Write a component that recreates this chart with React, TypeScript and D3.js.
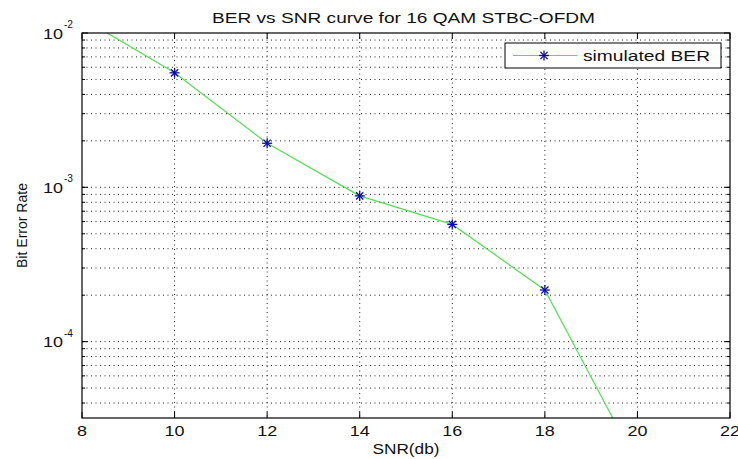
import React from "react";
import * as d3 from "d3";

const snr = [8, 10, 12, 14, 16, 18, 20];
const ber = [1.25e-2, 5.52e-3, 1.93e-3, 8.8e-4, 5.75e-4, 2.16e-4, 1.6e-5];
const xTicks = [8, 10, 12, 14, 16, 18, 20, 22];
const yDecades = [-4, -3, -2];
const titleText = "BER vs SNR curve for 16 QAM STBC-OFDM";
const xLabelText = "SNR(db)";
const yLabelText = "Bit Error Rate";
const legendText = "simulated BER";

const W = 738, H = 459;
const L = 82, R = 730, T = 33, B = 418;
const FONT = "'Liberation Sans', Arial, sans-serif";

function Star({ cx, cy, r, color }: { cx: number; cy: number; r: number; color: string }) {
  const d = r * 0.72;
  return (
    <g stroke={color} strokeWidth={1.3}>
      <line x1={cx - r} y1={cy} x2={cx + r} y2={cy} />
      <line x1={cx} y1={cy - r} x2={cx} y2={cy + r} />
      <line x1={cx - d} y1={cy - d} x2={cx + d} y2={cy + d} />
      <line x1={cx - d} y1={cy + d} x2={cx + d} y2={cy - d} />
    </g>
  );
}

export default function App() {
  const x = d3.scaleLinear().domain([8, 22]).range([L, R]);
  const y = d3.scaleLog().domain([3.2e-5, 1e-2]).range([B, T]);

  const minorVals: number[] = [];
  for (const e of [-5, -4, -3]) {
    for (let m = 1; m <= 9; m++) {
      const v = m * Math.pow(10, e);
      if (v >= 3.2e-5 && v < 1e-2) minorVals.push(v);
    }
  }

  const line = d3
    .line<number>()
    .x((_, i) => x(snr[i]))
    .y((d) => y(d));

  const markerColor = "#0a0aa8";
  const lineColor = "#55dd55";

  return (
    <svg width={W} height={H} style={{ position: "absolute", left: 0, top: 0, background: "#fff" }}>
      <defs>
        <clipPath id="plotclip">
          <rect x={L} y={T} width={R - L} height={B - T} />
        </clipPath>
      </defs>
      <rect x={0} y={0} width={W} height={H} fill="#fff" />
      {/* grid */}
      <g stroke="#222" strokeWidth={1} strokeDasharray="1,3.5">
        {xTicks
          .filter((t) => t > 8 && t < 22)
          .map((t) => (
            <line key={"gx" + t} x1={x(t)} x2={x(t)} y1={T} y2={B} />
          ))}
        {minorVals.map((v, i) => (
          <line key={"gy" + i} x1={L} x2={R} y1={y(v)} y2={y(v)} />
        ))}
      </g>
      {/* ticks */}
      <g stroke="#000" strokeWidth={1}>
        {xTicks.map((t) => (
          <g key={"tx" + t}>
            <line x1={x(t)} x2={x(t)} y1={B} y2={B - 6} />
            <line x1={x(t)} x2={x(t)} y1={T} y2={T + 6} />
          </g>
        ))}
        {minorVals.map((v, i) => (
          <g key={"ty" + i}>
            <line x1={L} x2={L + 3} y1={y(v)} y2={y(v)} />
            <line x1={R} x2={R - 3} y1={y(v)} y2={y(v)} />
          </g>
        ))}
        {yDecades.map((e) => (
          <g key={"tyd" + e}>
            <line x1={L} x2={L + 6} y1={y(Math.pow(10, e))} y2={y(Math.pow(10, e))} />
            <line x1={R} x2={R - 6} y1={y(Math.pow(10, e))} y2={y(Math.pow(10, e))} />
          </g>
        ))}
      </g>
      {/* data */}
      <g clipPath="url(#plotclip)">
        <path d={line(ber) || ""} fill="none" stroke={lineColor} strokeWidth={1.2} />
        {ber.map((v, i) => (
          <Star key={"m" + i} cx={x(snr[i])} cy={y(v)} r={5} color={markerColor} />
        ))}
      </g>
      {/* axes box */}
      <rect x={L} y={T} width={R - L} height={B - T} fill="none" stroke="#000" strokeWidth={1.2} />
      {/* x tick labels */}
      <g fontFamily={FONT} fontSize={15} fill="#111" textAnchor="middle">
        {xTicks.map((t) => (
          <text
            key={"lx" + t}
            x={x(t)}
            y={436}
            textLength={String(t).length * 10}
            lengthAdjust="spacingAndGlyphs"
          >
            {t}
          </text>
        ))}
      </g>
      {/* y tick labels */}
      <g fontFamily={FONT} fill="#111">
        {yDecades.map((e) => {
          const yy = y(Math.pow(10, e));
          return (
            <g key={"ly" + e}>
              <text x={43} y={yy + 5.5} fontSize={15} textLength={20} lengthAdjust="spacingAndGlyphs">
                10
              </text>
              <text x={64} y={yy - 5} fontSize={11} textLength={9} lengthAdjust="spacingAndGlyphs">
                {String(e)}
              </text>
            </g>
          );
        })}
      </g>
      {/* title & labels */}
      <text
        x={403.5}
        y={23}
        fontFamily={FONT}
        fontSize={14}
        fill="#111"
        textAnchor="middle"
        textLength={383}
        lengthAdjust="spacingAndGlyphs"
      >
        {titleText}
      </text>
      <text
        x={406}
        y={454}
        fontFamily={FONT}
        fontSize={14}
        fill="#111"
        textAnchor="middle"
        textLength={67}
        lengthAdjust="spacingAndGlyphs"
      >
        {xLabelText}
      </text>
      <text
        transform={`translate(27,${(T + B) / 2}) rotate(-90)`}
        fontFamily={FONT}
        fontSize={14}
        fill="#111"
        textAnchor="middle"
        textLength={85}
        lengthAdjust="spacingAndGlyphs"
      >
        {yLabelText}
      </text>
      {/* legend */}
      <g>
        <rect x={505} y={43} width={216} height={25} fill="#fff" stroke="#000" strokeWidth={1} />
        <line x1={513} x2={577} y1={55.5} y2={55.5} stroke={lineColor} strokeWidth={1.2} />
        <Star cx={544} cy={55.5} r={5} color={markerColor} />
        <text
          x={583}
          y={61}
          fontFamily={FONT}
          fontSize={14}
          fill="#111"
          textLength={127}
          lengthAdjust="spacingAndGlyphs"
        >
          {legendText}
        </text>
      </g>
    </svg>
  );
}
